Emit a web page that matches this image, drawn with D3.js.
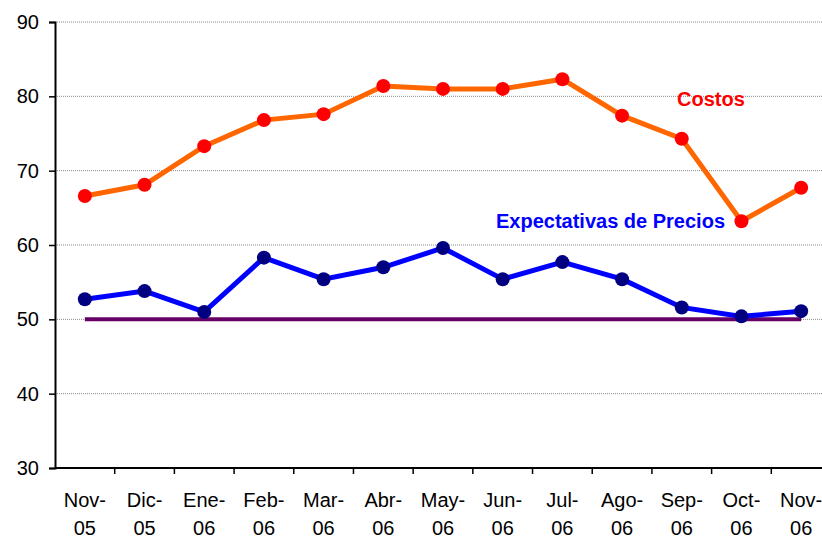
<!DOCTYPE html>
<html>
<head>
<meta charset="utf-8">
<script src="https://cdn.jsdelivr.net/npm/d3@7"></script>
<style>
  body { margin: 0; background: #fff; }
  svg { display: block; font-family: Arial, "Liberation Sans", sans-serif; }
</style>
</head>
<body>
<div id="chart"></div>
<script>
var months = ["Nov-", "Dic-", "Ene-", "Feb-", "Mar-", "Abr-", "May-", "Jun-", "Jul-", "Ago-", "Sep-", "Oct-", "Nov-"];
var years = ["05", "05", "06", "06", "06", "06", "06", "06", "06", "06", "06", "06", "06"];
var costos = [66.6, 68.1, 73.3, 76.8, 77.6, 81.4, 81.0, 81.0, 82.3, 77.4, 74.3, 63.2, 67.7];
var expectativas = [52.7, 53.8, 51.0, 58.3, 55.4, 57.0, 59.6, 55.4, 57.7, 55.4, 51.6, 50.4, 51.1];
var umbral = 50;
var yTicks = [30, 40, 50, 60, 70, 80, 90];

var width = 822, height = 537;
var plotLeft = 55, plotTop = 22, plotBottom = 468, plotRight = 831;

var svg = d3.select("#chart").append("svg")
	.attr("width", width)
	.attr("height", height);

var x = d3.scaleBand()
	.domain(d3.range(months.length))
	.range([plotLeft, plotRight]);

var y = d3.scaleLinear()
	.domain([30, 90])
	.range([plotBottom, plotTop]);

var cx = function(d, i) { return x(i) + x.bandwidth() / 2; };

// gridlines
svg.append("g")
	.selectAll("line")
	.data(yTicks.filter(function(t) { return t > 30; }))
	.enter()
	.append("line")
	.attr("x1", plotLeft).attr("x2", plotRight)
	.attr("y1", function(d) { return y(d); })
	.attr("y2", function(d) { return y(d); })
	.attr("stroke", "#888")
	.attr("stroke-width", 1)
	.attr("stroke-dasharray", "1,1");

// y axis
var yAxis = svg.append("g")
	.attr("transform", "translate(" + plotLeft + ",0)")
	.call(d3.axisLeft(y).tickValues(yTicks).tickSize(6).tickPadding(10));
yAxis.select(".domain").attr("stroke", "#000").attr("stroke-width", 2);
yAxis.selectAll(".tick line").attr("stroke", "#000").attr("stroke-width", 1.5);
yAxis.selectAll(".tick text")
	.attr("font-size", "20px")
	.attr("fill", "#000")
	.attr("font-family", "Arial, 'Liberation Sans', sans-serif");

// x axis
svg.append("line")
	.attr("x1", plotLeft).attr("x2", plotRight)
	.attr("y1", plotBottom).attr("y2", plotBottom)
	.attr("stroke", "#000").attr("stroke-width", 2);

svg.append("g")
	.selectAll("line")
	.data(d3.range(1, months.length + 1))
	.enter()
	.append("line")
	.attr("x1", function(i) { return x.step() * i + plotLeft; })
	.attr("x2", function(i) { return x.step() * i + plotLeft; })
	.attr("y1", plotBottom).attr("y2", plotBottom + 6)
	.attr("stroke", "#000").attr("stroke-width", 1.5);

var xl = svg.append("g")
	.selectAll("text")
	.data(months)
	.enter()
	.append("text")
	.attr("text-anchor", "middle")
	.attr("font-size", "20px")
	.attr("fill", "#000");
xl.append("tspan")
	.attr("x", cx).attr("y", 507)
	.text(function(d) { return d; });
xl.append("tspan")
	.attr("x", cx).attr("y", 535)
	.text(function(d, i) { return years[i]; });

// threshold line
svg.append("line")
	.attr("x1", cx(null, 0)).attr("x2", cx(null, months.length - 1))
	.attr("y1", y(umbral)).attr("y2", y(umbral))
	.attr("stroke", "#660066").attr("stroke-width", 4);

var line = d3.line()
	.x(cx)
	.y(function(d) { return y(d); });

// costos
svg.append("path")
	.datum(costos)
	.attr("d", line)
	.attr("fill", "none")
	.attr("stroke", "#FF6600")
	.attr("stroke-width", 5);
svg.append("g")
	.selectAll("circle")
	.data(costos)
	.enter()
	.append("circle")
	.attr("cx", cx)
	.attr("cy", function(d) { return y(d); })
	.attr("r", 7)
	.attr("fill", "#FF0000");

// expectativas
svg.append("path")
	.datum(expectativas)
	.attr("d", line)
	.attr("fill", "none")
	.attr("stroke", "#0000FF")
	.attr("stroke-width", 5);
svg.append("g")
	.selectAll("circle")
	.data(expectativas)
	.enter()
	.append("circle")
	.attr("cx", cx)
	.attr("cy", function(d) { return y(d); })
	.attr("r", 7)
	.attr("fill", "#000080");

// labels
svg.append("text")
	.attr("x", 677).attr("y", 106)
	.attr("font-size", "20px")
	.attr("font-weight", "bold")
	.attr("fill", "#FF0000")
	.text("Costos");

svg.append("text")
	.attr("x", 496).attr("y", 228)
	.attr("font-size", "20px")
	.attr("font-weight", "bold")
	.attr("fill", "#0000FF")
	.text("Expectativas de Precios");
</script>
</body>
</html>
